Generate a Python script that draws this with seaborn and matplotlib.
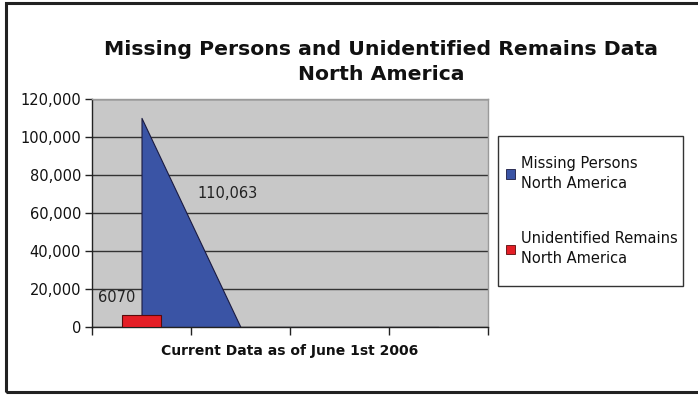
import matplotlib
matplotlib.use("Agg")
import matplotlib.pyplot as plt
import seaborn as sns
import pandas as pd
import numpy as np
from matplotlib.patches import Rectangle, Patch
from matplotlib.ticker import FuncFormatter

# Data
categories = ["1", "2", "3", "4"]
missing_persons = [110063, 0, 0, 0]
unidentified_remains = [6070, np.nan, np.nan, np.nan]
series_names = ["Missing Persons\nNorth America", "Unidentified Remains\nNorth America"]
title = "Missing Persons and Unidentified Remains Data\nNorth America"
xlabel = "Current Data as of June 1st 2006"

sns.set_theme(style="white")
plt.rcParams['font.family'] = ['DejaVu Sans']

BLUE = "#3a54a5"
RED = "#e41e26"
GRAY = "#c8c8c8"
TXT = "#111111"

fig = plt.figure(figsize=(6.98, 3.95), dpi=100)
ax = fig.add_axes([92/698, 68/395, 396/698, 228/395])
ax.set_facecolor(GRAY)

x = np.arange(len(categories))
ax.fill_between(x, missing_persons, 0, color=BLUE, edgecolor="#1a1a40", linewidth=0.8, zorder=2)

df = pd.DataFrame({"cat": categories, "val": unidentified_remains})
sns.barplot(data=df, x="cat", y="val", order=categories, color=RED, width=0.4,
            edgecolor="#5a0a0a", linewidth=0.8, saturation=1, ax=ax, zorder=3)

ax.set_xlim(-0.5, 3.5)
ax.set_ylim(0, 120000)
ax.set_yticks(np.arange(0, 120001, 20000))
ax.yaxis.set_major_formatter(FuncFormatter(lambda v, p: f"{int(v):,}"))
ax.set_xticks(np.arange(-0.5, 3.6, 1.0))
ax.set_xticklabels([])
ax.grid(axis="y", color="#333333", linewidth=1.0, zorder=1)
ax.set_axisbelow(True)
for s in ["top", "right"]:
    ax.spines[s].set_visible(True)
    ax.spines[s].set_color("#9a9a9a")
    ax.spines[s].set_linewidth(1.0)
for s in ["left", "bottom"]:
    ax.spines[s].set_color("#222222")
    ax.spines[s].set_linewidth(1.0)
ax.tick_params(axis="both", bottom=True, left=True, direction="out", length=5, width=1,
               color="#222222", labelsize=10.5, labelcolor=TXT, pad=3)
ax.tick_params(axis="x", length=6)
ax.set_xlabel(xlabel, fontsize=10, fontweight="bold", labelpad=3, color=TXT)
ax.set_ylabel("")

# data labels
ax.text(0.57, 70500, f"{missing_persons[0]:,}", fontsize=10.5, color="#222222", ha="left", va="center")
ax.text(-0.25, 15300, f"{int(unidentified_remains[0])}", fontsize=10.5, color="#222222", ha="center", va="center")

fig.text(381/698, 1 - 62/395, title, fontsize=14.7, fontweight="bold", ha="center", va="center",
         linespacing=1.45, color=TXT)

# legend
handles = [Patch(facecolor=BLUE, edgecolor="#1a1a40", linewidth=0.6),
           Patch(facecolor=RED, edgecolor="#5a0a0a", linewidth=0.6)]
leg = fig.legend(handles, series_names, loc="center left", bbox_to_anchor=(506/698, 1 - 211/395),
                 fontsize=10.5, frameon=False, handlelength=0.65, handleheight=0.65,
                 handletextpad=0.35, labelspacing=2.75, borderpad=0, borderaxespad=0)
for t in leg.get_texts():
    t.set_linespacing(1.45)
    t.set_color(TXT)
fig.patches.append(Rectangle((498/698, 1 - 286/395), 185/698, 150/395, transform=fig.transFigure,
                             fill=False, edgecolor="#333333", linewidth=1.0))

# outer border
fig.patches.append(Rectangle((6/698, 3/395), 700/698, 389/395, transform=fig.transFigure,
                             fill=False, edgecolor="#222222", linewidth=2.2))

fig.savefig("out.png", dpi=100)
